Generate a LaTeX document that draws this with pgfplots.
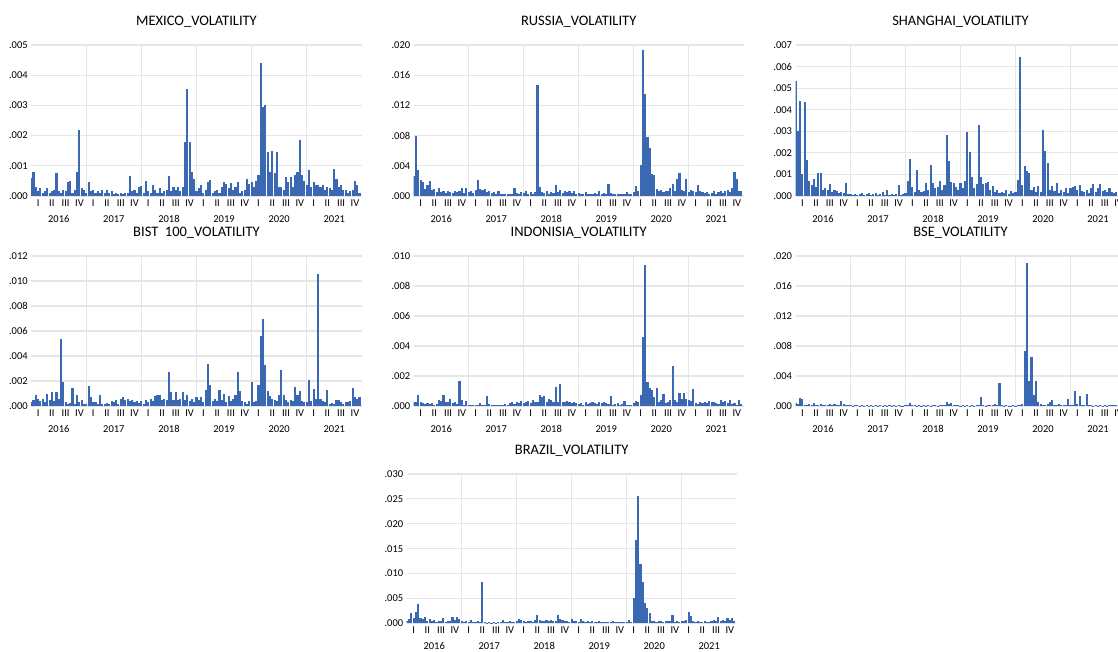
\documentclass[border=0pt]{standalone}
\usepackage{fontspec}
\setmainfont{Carlito}
\usepackage{pgfplots}
\pgfplotsset{compat=1.18}
\usepackage{pgfplotstable}
\definecolor{vcol}{RGB}{59,104,178}
\definecolor{gridc}{RGB}{230,230,230}

% values in units of 0.001, one value per half month, 2016 to 2021
\pgfplotstableread[row sep=\\]{y\\
0.6\\0.8\\0.3\\0.15\\0.25\\0.1\\0.15\\0.25\\0.1\\0.15\\0.2\\0.75\\0.15\\0.1\\0.2\\0.15\\0.45\\0.5\\0.1\\0.2\\0.8\\2.2\\0.25\\0.2\\
0.1\\0.45\\0.15\\0.2\\0.1\\0.15\\0.1\\0.2\\0.1\\0.2\\0.1\\0.15\\0.08\\0.1\\0.05\\0.1\\0.08\\0.1\\0.1\\0.66\\0.15\\0.2\\0.1\\0.3\\
0.33\\0.1\\0.5\\0.15\\0.1\\0.35\\0.2\\0.1\\0.25\\0.1\\0.15\\0.2\\0.66\\0.15\\0.3\\0.2\\0.3\\0.15\\0.3\\1.8\\3.55\\1.8\\0.8\\0.55\\
0.15\\0.25\\0.35\\0.1\\0.2\\0.47\\0.53\\0.1\\0.15\\0.2\\0.1\\0.3\\0.45\\0.4\\0.25\\0.42\\0.2\\0.3\\0.47\\0.1\\0.15\\0.2\\0.55\\0.4\\
0.45\\0.3\\0.5\\0.7\\4.4\\2.95\\3.0\\1.45\\0.8\\1.5\\0.75\\1.45\\0.3\\0.3\\0.2\\0.62\\0.45\\0.62\\0.3\\0.7\\0.8\\1.85\\0.7\\0.5\\
0.35\\0.85\\0.3\\0.45\\0.35\\0.35\\0.3\\0.35\\0.2\\0.3\\0.25\\0.2\\0.88\\0.55\\0.3\\0.35\\0.2\\0.2\\0.1\\0.15\\0.2\\0.5\\0.35\\0.1\\
}\mexico

\pgfplotstableread[row sep=\\]{y\\
2.7\\8.0\\3.4\\2.1\\1.8\\0.9\\1.5\\2.0\\0.8\\0.9\\0.5\\1.0\\0.5\\0.7\\0.4\\0.6\\0.5\\0.4\\0.6\\0.5\\0.6\\1.1\\0.4\\1.0\\
0.5\\0.6\\0.4\\0.8\\2.1\\0.9\\0.8\\0.9\\0.5\\0.6\\0.4\\0.5\\0.3\\0.6\\0.3\\0.2\\0.2\\0.3\\0.2\\0.3\\1.1\\0.4\\0.3\\0.5\\
0.4\\0.6\\0.3\\0.5\\0.3\\0.5\\14.7\\1.2\\0.5\\0.4\\0.6\\0.3\\0.5\\0.4\\1.4\\0.5\\0.8\\0.4\\0.7\\0.5\\0.7\\0.4\\0.6\\0.3\\
0.4\\0.2\\0.3\\0.5\\0.3\\0.2\\0.3\\0.4\\0.3\\0.6\\0.3\\0.4\\0.3\\1.6\\0.4\\0.3\\0.2\\0.3\\0.2\\0.2\\0.3\\0.5\\0.2\\0.3\\
0.5\\1.3\\0.6\\4.1\\19.4\\13.5\\7.8\\6.3\\2.9\\2.8\\0.9\\0.6\\0.8\\0.5\\0.7\\0.6\\1.0\\1.6\\0.6\\2.3\\3.0\\0.8\\0.7\\2.3\\
0.5\\0.8\\0.6\\0.5\\1.45\\0.6\\0.5\\0.4\\0.5\\0.3\\0.4\\0.7\\0.3\\0.5\\0.6\\0.4\\0.6\\0.8\\0.5\\1.1\\3.2\\2.3\\0.6\\0.7\\
}\russia

\pgfplotstableread[row sep=\\]{y\\
5.35\\3.0\\4.4\\1.0\\4.35\\1.65\\0.7\\0.5\\0.8\\0.4\\1.05\\1.05\\0.3\\0.35\\0.3\\0.55\\0.2\\0.3\\0.25\\0.15\\0.2\\0.15\\0.6\\0.1\\
0.08\\0.05\\0.1\\0.05\\0.08\\0.15\\0.05\\0.1\\0.15\\0.05\\0.1\\0.15\\0.05\\0.08\\0.2\\0.05\\0.3\\0.05\\0.1\\0.05\\0.08\\0.5\\0.05\\0.1\\
0.15\\0.7\\1.7\\0.4\\0.2\\1.2\\0.3\\0.2\\0.25\\0.6\\0.3\\1.45\\0.6\\0.35\\0.4\\0.7\\0.3\\0.5\\2.85\\1.6\\0.65\\0.6\\0.4\\0.3\\
0.6\\0.35\\0.7\\2.95\\2.05\\0.9\\0.35\\0.55\\3.3\\0.9\\0.55\\0.6\\0.65\\0.3\\0.45\\0.2\\0.3\\0.15\\0.2\\0.15\\0.3\\0.1\\0.25\\0.15\\
0.2\\0.75\\6.45\\0.5\\1.4\\1.15\\1.05\\0.3\\0.4\\0.2\\0.45\\0.2\\3.05\\2.1\\1.55\\0.3\\0.45\\0.25\\0.6\\0.15\\0.3\\0.2\\0.35\\0.15\\
0.35\\0.4\\0.45\\0.3\\0.5\\0.25\\0.2\\0.3\\0.15\\0.35\\0.55\\0.2\\0.35\\0.55\\0.25\\0.3\\0.2\\0.35\\0.2\\0.15\\0.2\\0.1\\0.15\\0.1\\
}\shanghai

\pgfplotstableread[row sep=\\]{y\\
0.3\\0.5\\0.85\\0.55\\0.4\\0.6\\0.3\\1.0\\0.5\\1.1\\0.4\\1.1\\0.6\\5.35\\1.9\\0.3\\0.2\\0.25\\1.45\\0.2\\0.9\\0.3\\0.5\\0.15\\
0.2\\1.6\\0.7\\0.3\\0.35\\0.2\\0.85\\0.2\\0.15\\0.25\\0.2\\0.4\\0.3\\0.45\\0.2\\0.6\\0.7\\0.5\\0.6\\0.4\\0.5\\0.3\\0.4\\0.25\\
0.4\\0.2\\0.5\\0.35\\0.6\\0.4\\0.8\\0.9\\0.9\\0.5\\0.6\\0.45\\2.75\\1.1\\0.5\\1.15\\0.5\\0.6\\1.1\\0.5\\0.9\\0.4\\0.6\\0.3\\
0.7\\0.5\\0.7\\0.3\\1.3\\3.35\\1.7\\0.4\\0.6\\0.4\\1.3\\0.5\\1.0\\0.3\\0.8\\0.4\\0.6\\0.9\\2.7\\1.2\\0.4\\0.3\\0.15\\0.4\\
1.9\\0.3\\0.4\\1.7\\5.6\\7.0\\3.3\\1.2\\0.8\\0.6\\0.5\\0.4\\0.9\\2.85\\0.9\\0.5\\0.3\\0.5\\0.4\\1.5\\0.9\\1.2\\0.4\\0.3\\
0.3\\2.1\\0.4\\1.35\\0.6\\10.55\\0.6\\0.4\\0.3\\1.3\\0.2\\0.25\\0.2\\0.45\\0.5\\0.3\\0.2\\0.35\\0.3\\0.4\\1.45\\0.7\\0.6\\0.75\\
}\bist

\pgfplotstableread[row sep=\\]{y\\
0.25\\0.3\\0.75\\0.3\\0.2\\0.15\\0.2\\0.15\\0.2\\0.1\\0.15\\0.4\\0.35\\0.75\\0.25\\0.3\\0.5\\0.2\\0.3\\0.15\\1.65\\0.4\\0.1\\0.35\\
0.05\\0.1\\0.05\\0.08\\0.1\\0.2\\0.05\\0.1\\0.65\\0.15\\0.1\\0.05\\0.1\\0.08\\0.05\\0.1\\0.15\\0.1\\0.2\\0.25\\0.15\\0.3\\0.2\\0.35\\
0.2\\0.25\\0.35\\0.2\\0.4\\0.25\\0.3\\0.75\\0.6\\0.65\\0.3\\0.5\\0.4\\0.25\\1.25\\0.3\\1.45\\0.25\\0.3\\0.35\\0.25\\0.2\\0.3\\0.2\\
0.15\\0.2\\0.1\\0.25\\0.15\\0.2\\0.3\\0.2\\0.15\\0.25\\0.2\\0.3\\0.2\\0.15\\0.7\\0.1\\0.15\\0.2\\0.1\\0.15\\0.35\\0.1\\0.05\\0.1\\
0.2\\0.35\\0.25\\0.75\\4.6\\9.4\\1.6\\1.2\\1.05\\0.6\\1.2\\0.3\\0.4\\0.8\\0.2\\0.3\\0.4\\2.65\\0.4\\0.3\\0.9\\0.45\\0.9\\0.5\\
0.4\\0.35\\1.15\\0.2\\0.15\\0.25\\0.2\\0.3\\0.2\\0.35\\0.25\\0.3\\0.2\\0.15\\0.4\\0.25\\0.35\\0.2\\0.4\\0.15\\0.2\\0.1\\0.4\\0.15\\
}\indonisia

\pgfplotstableread[row sep=\\]{y\\
0.45\\0.3\\1.05\\0.9\\0.2\\0.15\\0.3\\0.2\\0.35\\0.1\\0.2\\0.3\\0.15\\0.2\\0.1\\0.25\\0.15\\0.3\\0.2\\0.15\\0.7\\0.3\\0.2\\0.1\\
0.15\\0.05\\0.1\\0.15\\0.05\\0.1\\0.05\\0.08\\0.05\\0.1\\0.05\\0.08\\0.05\\0.1\\0.05\\0.08\\0.05\\0.15\\0.05\\0.1\\0.05\\0.08\\0.05\\0.05\\
0.08\\0.1\\0.45\\0.1\\0.2\\0.05\\0.15\\0.05\\0.08\\0.05\\0.1\\0.05\\0.08\\0.1\\0.05\\0.1\\0.15\\0.2\\0.55\\0.3\\0.35\\0.1\\0.15\\0.1\\
0.05\\0.1\\0.05\\0.08\\0.05\\0.1\\0.05\\0.1\\0.08\\1.15\\0.1\\0.05\\0.15\\0.2\\0.15\\0.25\\0.2\\3.1\\0.1\\0.05\\0.1\\0.05\\0.05\\0.1\\
0.05\\0.15\\0.2\\0.3\\7.35\\19.1\\3.4\\6.6\\1.5\\3.35\\0.5\\0.3\\0.2\\0.15\\0.25\\0.6\\0.8\\0.2\\0.15\\0.3\\0.1\\0.2\\0.1\\1.0\\
0.2\\0.15\\2.0\\0.3\\1.4\\0.2\\0.1\\1.55\\0.2\\0.1\\0.05\\0.08\\0.05\\0.1\\0.05\\0.15\\0.05\\0.1\\0.08\\0.15\\0.1\\0.05\\0.3\\0.1\\
}\bse

\pgfplotstableread[row sep=\\]{y\\
0.5\\0.8\\2.1\\1.0\\2.3\\3.9\\1.0\\0.8\\1.2\\0.4\\0.8\\0.5\\0.7\\0.3\\0.5\\0.4\\1.0\\0.3\\0.5\\0.4\\1.2\\0.6\\1.2\\0.9\\
0.4\\0.3\\0.5\\0.3\\0.7\\0.3\\0.2\\0.4\\0.3\\8.3\\0.2\\0.15\\0.2\\0.15\\0.3\\0.1\\0.2\\0.3\\0.7\\0.2\\0.3\\0.4\\0.3\\0.2\\
0.5\\0.9\\0.7\\0.4\\0.3\\0.5\\0.4\\0.3\\0.6\\1.75\\0.6\\0.5\\0.4\\0.6\\0.5\\0.6\\0.4\\0.5\\1.7\\0.8\\0.6\\0.4\\0.5\\0.3\\
0.8\\0.4\\0.5\\0.3\\0.9\\0.4\\0.3\\0.5\\0.3\\0.4\\0.2\\0.3\\0.4\\0.2\\0.3\\0.2\\0.3\\0.2\\0.4\\0.2\\0.3\\0.2\\0.3\\0.2\\
0.3\\0.7\\0.3\\5.0\\16.7\\25.5\\12.0\\8.3\\4.0\\3.1\\2.0\\0.5\\0.4\\0.3\\0.5\\0.4\\0.3\\0.5\\0.4\\0.5\\1.7\\0.3\\0.4\\0.3\\
0.5\\0.4\\0.6\\2.2\\1.5\\0.4\\0.3\\0.5\\0.2\\0.3\\0.4\\0.2\\0.3\\0.5\\0.6\\0.4\\1.35\\0.5\\0.7\\0.4\\1.0\\0.6\\1.0\\0.4\\
}\brazil

\pgfplotsset{
  vol/.style={
    scale only axis, width=330pt, height=150pt,
    xmin=2016, xmax=2022, ymin=0, clip=true,
    axis line style={draw=none},
    major tick length=0pt, minor tick length=0pt,
    xtick={2016.125,2016.375,...,2021.9},
    xticklabels={I,II,III,IV,I,II,III,IV,I,II,III,IV,I,II,III,IV,I,II,III,IV,I,II,III,IV},
    minor xtick={2017,2018,2019,2020,2021},
    xmajorgrids=false, xminorgrids=true, ymajorgrids=true,
    major grid style={line width=1.2pt, gridc},
    minor grid style={line width=1.2pt, gridc},
    extra x ticks={2016.5,2017.5,2018.5,2019.5,2020.5,2021.5},
    extra x tick labels={2016,2017,2018,2019,2020,2021},
    extra x tick style={xmajorgrids=false, xticklabel style={inner sep=1pt, yshift=-18pt}},
    tick label style={font=\fontsize{10.5}{12}\selectfont},
    title style={font=\fontsize{14.5}{17}\selectfont, inner sep=0pt, at={(0.5,1)}, anchor=base, yshift=14pt},
  },
  spikes/.style={ycomb, draw=vcol, line width=2.1pt, mark=none},
}

\begin{document}
\begin{tikzpicture}
\useasboundingbox (0,0) rectangle (1118pt,-651pt);

\begin{axis}[vol, at={(31.2pt,-196pt)}, anchor=south west, width=330.6pt, height=151pt,
  ymax=5, ytick={0,1,2,3,4,5}, yticklabels={.000,.001,.002,.003,.004,.005},
  title={MEXICO\_VOLATILITY}]
\addplot[spikes] table[x expr=2016+\coordindex/24, y index=0] {\mexico};
\end{axis}

\begin{axis}[vol, at={(413.7pt,-196pt)}, anchor=south west, height=151pt,
  ymax=20, ytick={0,4,8,12,16,20}, yticklabels={.000,.004,.008,.012,.016,.020},
  title={RUSSIA\_VOLATILITY}]
\addplot[spikes] table[x expr=2016+\coordindex/24, y index=0] {\russia};
\end{axis}

\begin{axis}[vol, at={(795.5pt,-196pt)}, anchor=south west, height=151pt,
  ymax=7, ytick={0,1,2,3,4,5,6,7}, yticklabels={.000,.001,.002,.003,.004,.005,.006,.007},
  title={SHANGHAI\_VOLATILITY}]
\addplot[spikes] table[x expr=2016+\coordindex/24, y index=0] {\shanghai};
\end{axis}

\begin{axis}[vol, at={(31.2pt,-406pt)}, anchor=south west, width=330.6pt,
  ymax=12, ytick={0,2,4,6,8,10,12}, yticklabels={.000,.002,.004,.006,.008,.010,.012},
  title={BIST\ \ 100\_VOLATILITY}]
\addplot[spikes] table[x expr=2016+\coordindex/24, y index=0] {\bist};
\end{axis}

\begin{axis}[vol, at={(413.7pt,-406pt)}, anchor=south west,
  ymax=10, ytick={0,2,4,6,8,10}, yticklabels={.000,.002,.004,.006,.008,.010},
  title={INDONISIA\_VOLATILITY}]
\addplot[spikes] table[x expr=2016+\coordindex/24, y index=0] {\indonisia};
\end{axis}

\begin{axis}[vol, at={(795.5pt,-406pt)}, anchor=south west,
  ymax=20, ytick={0,4,8,12,16,20}, yticklabels={.000,.004,.008,.012,.016,.020},
  title={BSE\_VOLATILITY}]
\addplot[spikes] table[x expr=2016+\coordindex/24, y index=0] {\bse};
\end{axis}

\begin{axis}[vol, at={(406.7pt,-623.3pt)}, anchor=south west, height=149.3pt,
  ymax=30, ytick={0,5,10,15,20,25,30}, yticklabels={.000,.005,.010,.015,.020,.025,.030},
  title={BRAZIL\_VOLATILITY}]
\addplot[spikes] table[x expr=2016+\coordindex/24, y index=0] {\brazil};
\end{axis}

\end{tikzpicture}
\end{document}
